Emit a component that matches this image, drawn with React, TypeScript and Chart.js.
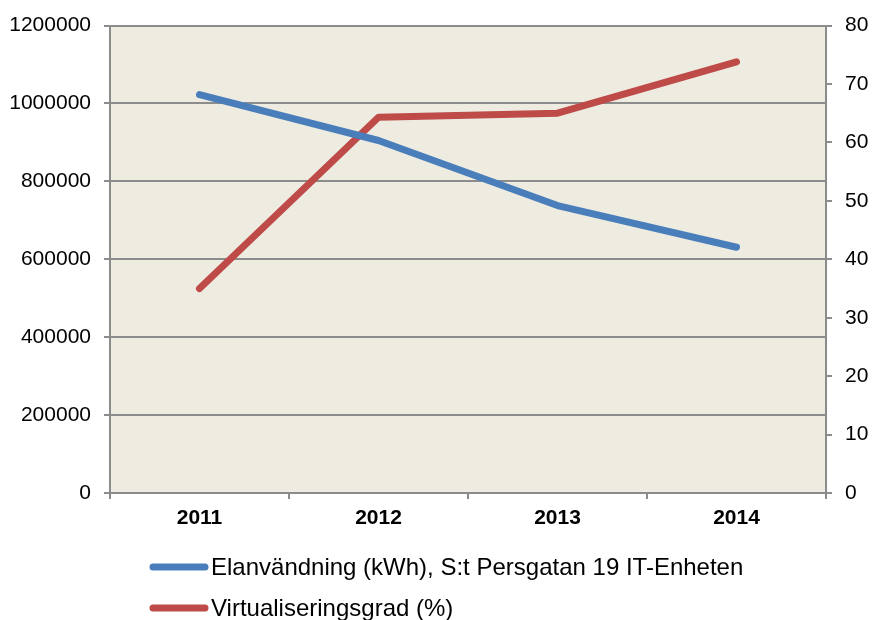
import React, { useEffect, useRef } from "react";
import { Chart, registerables } from "chart.js";

Chart.register(...registerables);

const years = ["2011", "2012", "2013", "2014"];
const energyKWh = [1023000, 905000, 738000, 631000];
const virtualizationPct = [35, 64.3, 65, 73.8];
const energyLabel = "Elanvändning (kWh), S:t Persgatan 19 IT-Enheten";
const virtLabel = "Virtualiseringsgrad (%)";

const FONT = "'Liberation Sans', Arial, sans-serif";

const bgPlugin = {
  id: "plotBg",
  beforeDraw(chart: any) {
    const { ctx, chartArea } = chart;
    ctx.save();
    ctx.fillStyle = "#EEEBE1";
    ctx.fillRect(chartArea.left, chartArea.top, chartArea.right - chartArea.left, chartArea.bottom - chartArea.top);
    ctx.restore();
  },
};

const legendPlugin = {
  id: "customLegend",
  afterDraw(chart: any) {
    const { ctx } = chart;
    const rows = [567, 608];
    ctx.save();
    chart.data.datasets.forEach((ds: any, i: number) => {
      const y = rows[i];
      ctx.strokeStyle = ds.borderColor;
      ctx.lineWidth = 7;
      ctx.lineCap = "round";
      ctx.beginPath();
      ctx.moveTo(153, y);
      ctx.lineTo(205, y);
      ctx.stroke();
      ctx.fillStyle = "#000";
      ctx.font = `24px ${FONT}`;
      ctx.textBaseline = "middle";
      ctx.textAlign = "left";
      ctx.fillText(ds.label, 211, y + 1);
    });
    ctx.restore();
  },
};

export default function App() {
  const ref = useRef<HTMLCanvasElement | null>(null);

  useEffect(() => {
    document.body.style.margin = "0";
    const canvas = ref.current;
    if (!canvas) return;
    const chart = new Chart(canvas, {
      type: "line",
      data: {
        labels: years,
        datasets: [
          {
            label: energyLabel,
            data: energyKWh,
            borderColor: "#4A7EBB",
            backgroundColor: "#4A7EBB",
            borderWidth: 7,
            pointRadius: 0,
            borderCapStyle: "round",
            borderJoinStyle: "round",
            yAxisID: "y",
            tension: 0,
          },
          {
            label: virtLabel,
            data: virtualizationPct,
            borderColor: "#BE4B48",
            backgroundColor: "#BE4B48",
            borderWidth: 7,
            pointRadius: 0,
            borderCapStyle: "round",
            borderJoinStyle: "round",
            yAxisID: "y1",
            tension: 0,
          },
        ],
      },
      options: {
        responsive: false,
        animation: false,
        layout: { padding: { top: 25, left: 0, right: 0, bottom: 0 } },
        plugins: {
          legend: { display: false },
          tooltip: { enabled: false },
        },
        scales: {
          x: {
            type: "category",
            offset: true,
            grid: {
              offset: true,
              drawOnChartArea: false,
              drawTicks: true,
              tickLength: 6,
              color: "#8C8C8C",
              lineWidth: 2,
            },
            border: { display: true, color: "#8C8C8C", width: 2 },
            ticks: {
              color: "#000",
              font: { family: FONT, size: 21, weight: "bold" },
              padding: 7,
              maxRotation: 0,
            },
            afterFit(scale: any) {
              scale.height = 127;
            },
          },
          y: {
            position: "left",
            min: 0,
            max: 1200000,
            ticks: {
              stepSize: 200000,
              color: "#000",
              font: { family: FONT, size: 21 },
              padding: 13,
              callback: (v: any) => String(v),
            },
            grid: {
              color: "#8C8C8C",
              lineWidth: 2,
              tickLength: 6,
              drawTicks: true,
            },
            border: { display: true, color: "#8C8C8C", width: 2 },
            afterFit(scale: any) {
              scale.width = 110;
            },
          },
          y1: {
            position: "right",
            min: 0,
            max: 80,
            ticks: {
              stepSize: 10,
              color: "#000",
              font: { family: FONT, size: 21 },
              padding: 13,
            },
            grid: {
              drawOnChartArea: false,
              color: "#8C8C8C",
              lineWidth: 2,
              tickLength: 6,
              drawTicks: true,
            },
            border: { display: true, color: "#8C8C8C", width: 2 },
            afterFit(scale: any) {
              scale.width = 46;
            },
          },
        },
      },
      plugins: [bgPlugin, legendPlugin],
    });
    return () => chart.destroy();
  }, []);

  return (
    <div style={{ position: "absolute", left: 0, top: 0, width: 872, height: 620, background: "#fff" }}>
      <canvas ref={ref} width={872} height={620} style={{ display: "block" }} />
    </div>
  );
}
